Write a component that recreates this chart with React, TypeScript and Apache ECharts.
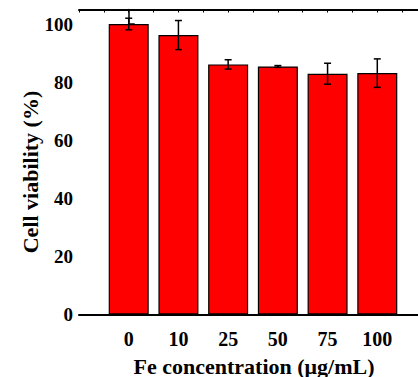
import React, { useEffect, useRef } from "react";
import * as echarts from "echarts";

const categories = ["0", "10", "25", "50", "75", "100"];
const viability = [100.0, 96.2, 86.1, 85.4, 82.9, 83.1];
const errors = [2.0, 5.0, 1.6, 0.3, 3.6, 4.9];
const yTicks = [0, 20, 40, 60, 80, 100];

const FONT = "'Liberation Serif', 'Times New Roman', Times, serif";

export default function App() {
  const ref = useRef<HTMLDivElement>(null);
  useEffect(() => {
    if (!ref.current) return;
    const chart = echarts.init(ref.current, null, { renderer: "svg" });
    const barData = viability.map((v, i) => [i, v]);
    const errData = viability.map((v, i) => [i, v - errors[i], v + errors[i]]);
    chart.setOption({
      animation: false,
      textStyle: { fontFamily: FONT },
      grid: { left: 79, top: 9.5, right: 0, bottom: 62.5 },
      xAxis: [
        {
          type: "value",
          min: -1,
          max: 6,
          interval: 1,
          position: "bottom",
          axisLine: { show: true, lineStyle: { color: "#000", width: 2 } },
          axisTick: { show: false },
          splitLine: { show: false },
          axisLabel: {
            margin: 14,
            fontFamily: FONT,
            fontWeight: "bold",
            fontSize: 20,
            color: "#000",
            formatter: (v: number) => {
              const i = Math.round(v);
              return i >= 0 && i < categories.length && Math.abs(v - i) < 1e-6 ? categories[i] : "";
            },
          },
        },
        {
          type: "value",
          min: -1,
          max: 6,
          interval: 0.5,
          position: "top",
          axisLine: { show: true, onZero: false, lineStyle: { color: "#000", width: 2 } },
          axisTick: { show: true, inside: true, length: 3, lineStyle: { color: "#000", width: 1 } },
          axisLabel: { show: false },
          splitLine: { show: false },
        },
      ],
      yAxis: {
        type: "value",
        min: 0,
        max: 105,
        interval: 20,
        axisLine: { show: true, lineStyle: { color: "#000", width: 1.5 } },
        axisTick: { show: true, inside: true, length: 6, lineStyle: { color: "#000", width: 1.5 } },
        minorTick: { show: true, splitNumber: 2, length: 4, lineStyle: { color: "#000", width: 1.5 } },
        splitLine: { show: false },
        axisLabel: {
          margin: 6,
          fontFamily: FONT,
          fontWeight: "bold",
          fontSize: 19,
          color: "#000",
          formatter: (v: number) => (yTicks.indexOf(v) >= 0 ? String(v) : ""),
        },
      },
      graphic: [
        {
          type: "text",
          x: 254,
          y: 366,
          style: {
            text: "Fe concentration (μg/mL)",
            fontFamily: FONT,
            fontWeight: "bold",
            fontSize: 22,
            fill: "#000",
            textAlign: "center",
            textVerticalAlign: "middle",
          },
        },
        {
          type: "text",
          x: 30,
          y: 172,
          rotation: Math.PI / 2,
          style: {
            text: "Cell viability (%)",
            fontFamily: FONT,
            fontWeight: "bold",
            fontSize: 22,
            fill: "#000",
            textAlign: "center",
            textVerticalAlign: "middle",
          },
        },
      ],
      series: [
        {
          type: "bar",
          xAxisIndex: 0,
          data: barData,
          barWidth: 40,
          itemStyle: { color: "#ff0000", borderColor: "#000", borderWidth: 1.2 },
        },
        {
          type: "custom",
          xAxisIndex: 0,
          data: errData,
          z: 10,
          renderItem: (params: any, api: any) => {
            const x = api.value(0);
            const lo = api.coord([x, api.value(1)]);
            const hi = api.coord([x, api.value(2)]);
            const hw = 3.5;
            const st = { stroke: "#000", lineWidth: 1.5 };
            return {
              type: "group",
              children: [
                { type: "line", shape: { x1: lo[0], y1: lo[1], x2: hi[0], y2: hi[1] }, style: st },
                { type: "line", shape: { x1: hi[0] - hw, y1: hi[1], x2: hi[0] + hw, y2: hi[1] }, style: st },
                { type: "line", shape: { x1: lo[0] - hw, y1: lo[1], x2: lo[0] + hw, y2: lo[1] }, style: st },
              ],
            };
          },
        },
      ],
    });
    return () => chart.dispose();
  }, []);
  return (
    <div style={{ position: "absolute", left: 0, top: 0, width: 418, height: 377, overflow: "hidden", background: "#fff" }}>
      <div ref={ref} style={{ width: 430, height: 377 }} />
    </div>
  );
}
